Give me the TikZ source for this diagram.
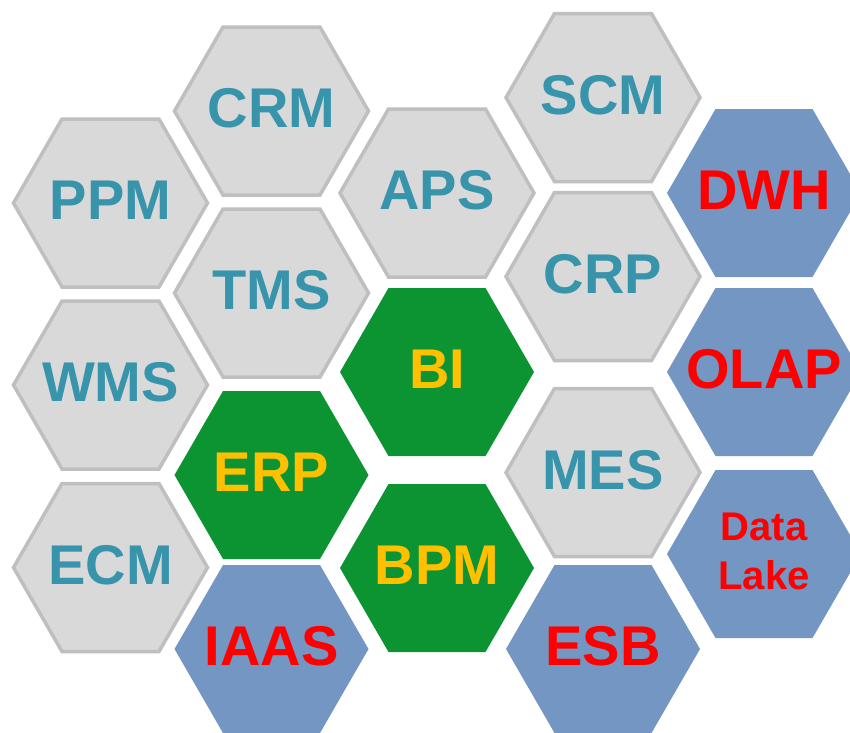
\documentclass[tikz,border=0pt]{standalone}
\usepackage{fontspec}
\setmainfont{Liberation Sans}
\usetikzlibrary{shapes.geometric}

\definecolor{cellgray}{HTML}{D9D9D9}
\definecolor{edgegray}{HTML}{BFBFBF}
\definecolor{textteal}{HTML}{3794AB}
\definecolor{cellgreen}{HTML}{0B9431}
\definecolor{textyellow}{HTML}{FFC000}
\definecolor{cellblue}{HTML}{7396C2}
\definecolor{textred}{HTML}{FF0000}

\tikzset{
	cell/.style={regular polygon, regular polygon sides=6, minimum size=194pt, inner sep=0pt},
	gray cell/.style={cell, fill=cellgray, draw=edgegray, line width=3.5pt},
	green cell/.style={cell, fill=cellgreen},
	blue cell/.style={cell, fill=cellblue},
	lake cell/.style={blue cell},
	word/.style={inner sep=0pt, text depth=6pt, font=\bfseries\fontsize{56}{60}\selectfont},
	gray word/.style={word, text=textteal},
	green word/.style={word, text=textyellow},
	blue word/.style={word, text=textred},
	lake word/.style={blue word, align=center, font=\bfseries\fontsize{40}{49}\selectfont},
}

\begin{document}
\begin{tikzpicture}[x=1pt,y=-1pt]
		
		\useasboundingbox (0,0) rectangle (850,732);
		\clip (0,0) rectangle (850,732);
		
		% honeycomb, column by column
		\foreach \x/\y/\s/\n/\t in {
			110.5/203/gray/ppm/PPM,
			110.5/385/gray/wms/WMS,
			110.5/567.5/gray/ecm/ECM,
			271.5/111/gray/crm/CRM,
			271.5/293/gray/tms/TMS,
			271.5/475/green/erp/ERP,
			271.5/649/blue/iaas/IAAS,
			437/193/gray/aps/APS,
			437/372/green/bi/BI,
			437/568/green/bpm/BPM,
			603/97.5/gray/scm/SCM,
			603/276.5/gray/crp/CRP,
			603/472.5/gray/mes/MES,
			603/649/blue/esb/ESB,
			764/193/blue/dwh/DWH,
			764/372/blue/olap/OLAP,
			764/554/lake/lake/{Data\\Lake}}
		{
			\node[\s\space cell] (\n) at (\x,\y) {};
			\node[\s\space word] (\n-txt) at (\n.center) {\t};
		}
		
	\end{tikzpicture}
\end{document}
